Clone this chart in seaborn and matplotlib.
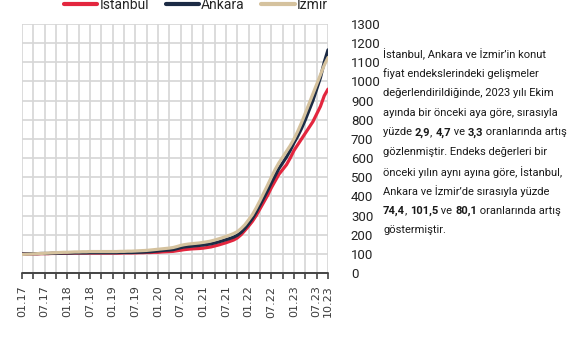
import matplotlib
matplotlib.use("Agg")
import matplotlib.pyplot as plt
import seaborn as sns
import pandas as pd
from matplotlib.offsetbox import TextArea, HPacker, AnnotationBbox

# Monthly housing price index (2017=100), Jan 2017 - Oct 2023
months = pd.date_range("2017-01-01", "2023-10-01", freq="MS").strftime("%m.%y").tolist()

istanbul = [
    99, 99, 100, 100, 100, 101, 101, 101, 102, 102, 103, 103,
    103, 104, 104, 104, 104, 104, 104, 104, 104, 104, 104, 104,
    104, 104, 104, 105, 105, 105, 105, 106, 106, 107, 107, 108,
    108, 110, 111, 112, 113, 116, 119, 122, 124, 126, 127, 128,
    130, 133, 136, 141, 146, 152, 158, 165, 172, 183, 200, 222,
    245, 270, 300, 335, 370, 405, 445, 480, 515, 540, 565, 600,
    640, 670, 700, 730, 760, 790, 830, 870, 925, 960,
]
ankara = [
    100, 100, 101, 101, 101, 102, 102, 102, 103, 103, 103, 104,
    104, 104, 105, 105, 105, 105, 106, 106, 106, 106, 106, 106,
    106, 106, 107, 107, 107, 107, 108, 108, 109, 110, 111, 113,
    115, 117, 119, 120, 122, 127, 132, 136, 138, 140, 142, 144,
    146, 149, 152, 157, 162, 168, 174, 180, 187, 197, 212, 233,
    258, 285, 318, 355, 392, 430, 470, 508, 545, 575, 605, 640,
    680, 715, 755, 800, 850, 900, 960, 1020, 1100, 1165,
]
izmir = [
    97, 98, 99, 100, 101, 102, 103, 104, 105, 106, 107, 108,
    108, 109, 110, 110, 111, 111, 112, 112, 112, 112, 112, 112,
    112, 112, 113, 113, 114, 114, 115, 116, 117, 118, 120, 122,
    124, 126, 128, 130, 133, 138, 144, 148, 151, 153, 155, 157,
    160, 163, 167, 172, 178, 184, 191, 198, 206, 216, 232, 252,
    278, 305, 340, 378, 418, 458, 500, 540, 575, 605, 635, 665,
    700, 740, 785, 835, 885, 935, 985, 1035, 1085, 1125,
]

city_names = ["İstanbul", "Ankara", "İzmir"]
city_colors = ["#e3263e", "#1c2b45", "#d5c29e"]

y_ticks = list(range(0, 1301, 100))

note_lines = [
    [("İstanbul, Ankara ve İzmir’in konut", False)],
    [("fiyat endekslerindeki gelişmeler", False)],
    [("değerlendirildiğinde, 2023 yılı Ekim", False)],
    [("ayında bir önceki aya göre, sırasıyla", False)],
    [("yüzde ", False), ("2,9", True), (", ", False), ("4,7", True),
     (" ve ", False), ("3,3", True), (" oranlarında artış", False)],
    [("gözlenmiştir. Endeks değerleri bir", False)],
    [("önceki yılın aynı ayına göre, İstanbul,", False)],
    [("Ankara ve İzmir’de sırasıyla yüzde", False)],
    [("74,4", True), (", ", False), ("101,5", True), (" ve ", False),
     ("80,1", True), (" oranlarında artış", False)],
    [("göstermiştir.", False)],
]

# ---------------------------------------------------------------------------
sns.set_style("whitegrid")
sans = ["Roboto", "DejaVu Sans"]
plt.rcParams["font.family"] = sans
plt.rcParams["xtick.bottom"] = True
plt.rcParams["xtick.major.size"] = 4

n = len(months)
df = pd.DataFrame({
    "t": list(range(n)) * 3,
    "value": istanbul + ankara + izmir,
    "city": sum([[c] * n for c in city_names], []),
})

W, H = 583, 345
fig = plt.figure(figsize=(W / 100, H / 100), dpi=100)
ax_l, ax_r, ax_t, ax_b = 22, 328, 24, 273
ax = fig.add_axes([ax_l / W, 1 - ax_b / H, (ax_r - ax_l) / W, (ax_b - ax_t) / H])

sns.lineplot(data=df, x="t", y="value", hue="city", hue_order=city_names,
             palette=dict(zip(city_names, city_colors)), linewidth=2.3,
             ax=ax, legend=True)

ax.set_xlim(0, n - 1)
ax.set_ylim(0, 1300)

# quarterly ticks / grid; labels every six months plus the last month
xt = list(range(0, n, 3))
ax.set_xticks(xt)
ax.set_xticklabels([months[i] if (i % 6 == 0 or i == n - 1) else "" for i in xt],
                   rotation=90, fontfamily="DejaVu Sans", fontsize=8,
                   color="#3a3a3a")
ax.xaxis.set_ticks_position("bottom")
ax.tick_params(axis="x", which="major", bottom=True, direction="out", length=4,
               width=1.2, color="#444444", pad=5)

ax.set_yticks(y_ticks)
ax.yaxis.tick_right()
ax.tick_params(axis="y", left=False, right=False, pad=13, labelsize=9.5,
               labelcolor="#222222")
for lab in ax.get_yticklabels():
    lab.set_horizontalalignment("left")

ax.grid(True, which="major", axis="both", color="#d6d6d6", linewidth=1.2)
for s in ["top", "right", "left"]:
    ax.spines[s].set_visible(False)
ax.spines["bottom"].set_visible(False)
# dark baseline along the zero level
ax.axhline(0, color="#444444", linewidth=1.4, clip_on=False, zorder=5)
ax.set_xlabel("")
ax.set_ylabel("")

sns.move_legend(ax, "center", bbox_to_anchor=((196 - ax_l) / (ax_r - ax_l), (ax_b - 5) / (ax_b - ax_t)),
                ncol=3, title=None, frameon=False, fontsize=10,
                handlelength=2.4, handletextpad=0.15, columnspacing=1.2)
for h in ax.get_legend().get_lines():
    h.set_linewidth(3)

# explanatory paragraph with bold figures
for k, line in enumerate(note_lines):
    parts = [TextArea(txt, textprops=dict(fontsize=8, family=sans, color="#1a1a1a",
                                          fontweight="bold" if b else "normal"))
             for txt, b in line]
    row = HPacker(children=parts, align="baseline", pad=0, sep=0)
    y_px = 54 + k * 19.6
    ab = AnnotationBbox(row, (383 / W, 1 - y_px / H), xycoords="figure fraction",
                        box_alignment=(0, 0.5), frameon=False, pad=0)
    fig.add_artist(ab)

fig.savefig("out.png", dpi=100)
